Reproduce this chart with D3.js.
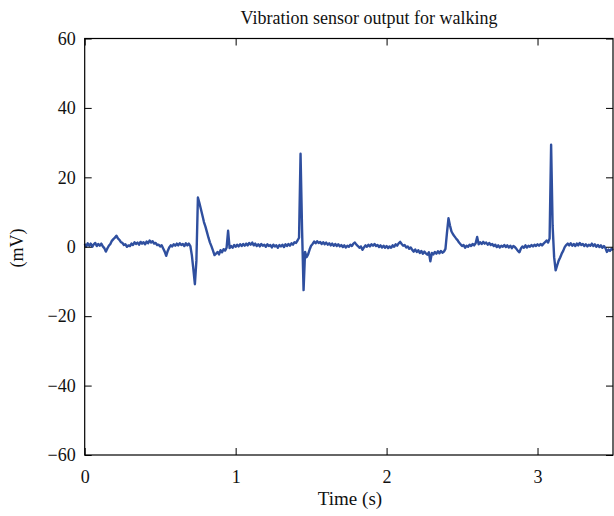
<!DOCTYPE html>
<html>
<head>
<meta charset="utf-8">
<script src="https://cdn.jsdelivr.net/npm/d3@7"></script>
<style>
  body { margin: 0; background: #fff; }
  svg text { font-family: "Liberation Serif", "DejaVu Serif", serif; fill: #111; }
</style>
</head>
<body>
<script>
// signal, one sample every 0.01 s from t = 0
var sampleStep = 0.01;
var signalMV = [
  0.8, 0.1, 1.0, 0.3, 0.9, 0.0, 0.7, 1.1, 0.2, 0.8,
  0.3, 0.9, 0.1, -0.4, -1.4, -0.5, 0.3, 0.8, 1.7, 2.2,
  2.6, 3.2, 2.4, 2.0, 1.3, 1.1, 0.5, 0.7, 0.0, 0.4,
  0.2, 0.9, 0.5, 1.3, 0.8, 1.2, 0.6, 1.4, 0.9, 1.3,
  0.7, 1.5, 1.0, 1.8, 1.2, 1.6, 0.9, 1.1, 0.5, 0.6,
  0.1, 0.4, -0.5, -1.4, -2.6, -1.2, -0.2, 0.4, 0.1, 0.7,
  0.3, 0.9, 0.4, 1.0, 0.5, 0.8, 0.2, 1.0, 0.4, 0.9,
  0.2, -2.5, -6.5, -10.8, -4.0, 14.2, 12.6, 10.8, 9.0, 7.1,
  5.8, 4.2, 2.6, 1.2, 0.1, -1.1, -2.4, -2.0, -1.5, -2.2,
  -1.0, -1.6, -0.7, -1.1, -0.3, 4.6, -0.4, 0.2, -0.3, 0.5,
  0.0, 0.6, 0.1, 0.7, 0.2, 0.8, 0.3, 0.9, 0.4, 1.1,
  0.6, 1.2, 0.4, 0.9, 0.2, 0.7, 0.1, 0.8, 0.3, 0.6,
  0.0, 0.7, 0.2, 0.5, -0.2, 0.6, 0.1, 0.4, -0.3, 0.5,
  0.1, 0.6, -0.1, 0.7, 0.2, 0.8, 0.3, 1.0, 0.6, 1.3,
  1.1, 1.8, 2.6, 26.8, 5.0, -12.5, -1.5, -3.0, -2.2, -0.8,
  0.3, 0.8, 1.5, 1.0, 1.6, 1.1, 1.4, 0.8, 1.3, 0.7,
  1.2, 0.6, 1.0, 0.4, 0.9, 0.3, 0.8, 0.2, 0.7, 0.1,
  0.5, -0.1, 0.4, -0.2, 0.3, 0.0, 0.6, 0.2, 0.9, 1.2,
  0.6, 0.2, -0.3, 0.1, -0.9, -0.2, 0.4, 0.0, 0.6, 0.1,
  0.7, 0.3, 0.8, 0.2, 0.5, -0.1, 0.4, -0.2, 0.3, -0.3,
  0.2, -0.4, 0.1, -0.3, 0.4, 0.0, 0.7, 0.3, 1.0, 1.4,
  0.8, 0.3, 0.5, -0.2, 0.1, -0.6, -0.2, -0.9, -1.4, -0.8,
  -1.5, -1.0, -1.8, -1.2, -2.0, -1.4, -1.9, -2.3, -1.6, -4.2,
  -1.8, -2.2, -1.5, -2.0, -1.3, -1.9, -1.2, -1.7, -1.4, -0.6,
  4.0, 8.2, 6.1, 4.4, 3.6, 3.0, 2.4, 1.9, 1.2, 0.7,
  0.2, 0.5, -0.3, 0.3, 0.0, 0.6, 0.2, 0.8, 0.4, 1.0,
  2.8, 0.7, 1.3, 0.8, 1.4, 0.9, 1.2, 0.6, 1.1, 0.5,
  0.8, 0.2, 0.6, -0.1, 0.4, -0.2, 0.3, 0.0, 0.5, -0.1,
  0.4, -0.2, 0.3, -0.4, 0.2, -0.1, -0.6, -1.2, -1.6, -0.5,
  0.1, -0.3, 0.4, -0.2, 0.3, 0.0, 0.5, 0.1, 0.6, 0.2,
  0.7, 0.3, 0.8, 0.4, 0.9, 1.3, 1.8, 1.2, 2.4, 29.4,
  6.0, -3.0, -6.8, -5.4, -4.0, -3.1, -2.0, -1.2, -0.1, 0.5,
  0.9, 0.4, 1.0, 0.3, 0.8, 0.2, 0.9, 0.4, 1.1, 0.5,
  0.8, 0.2, 0.7, 0.1, 0.6, 0.3, 0.9, 0.2, 0.7, 0.0,
  0.5, -0.1, 0.4, -0.3, 0.2, -0.4, -1.5, -0.8, -1.2, -0.6,
  -1.0
];
var xTicks = [0, 1, 2, 3];
var yTicks = [-60, -40, -20, 0, 20, 40, 60];
var xDomain = [0, 3.5];
var yDomain = [-60, 60];

var margin = {top: 38.5, right: 1, bottom: 61, left: 84.7},
    width = 614 - margin.left - margin.right,
    height = 516 - margin.top - margin.bottom;

var svg = d3.select("body")
  .append("svg")
    .attr("width", 614)
    .attr("height", 516)
  .append("g")
    .attr("transform", "translate(" + margin.left + "," + margin.top + ")");

var x = d3.scaleLinear().domain(xDomain).range([0, width]);
var y = d3.scaleLinear().domain(yDomain).range([height, 0]);

// the trace
var line = d3.line()
  .x(function(d, i) { return x(i * sampleStep); })
  .y(function(d) { return y(d); });

svg.append("path")
  .datum(signalMV)
  .attr("fill", "none")
  .attr("stroke", "#2f4f9f")
  .attr("stroke-width", 2.4)
  .attr("stroke-linejoin", "round")
  .attr("d", line);

// axes, ticks pointing inward on all four sides
function styleAxis(g) {
  g.select(".domain").remove();
  g.selectAll("line").attr("stroke", "#000").attr("stroke-width", 1);
  g.selectAll("text").style("font-size", "18px").attr("fill", "#111");
}

svg.append("g")
  .attr("transform", "translate(0," + height + ")")
  .call(d3.axisBottom(x).tickValues(xTicks).tickSize(-7).tickPadding(15).tickFormat(d3.format("d")))
  .call(styleAxis);

svg.append("g")
  .call(d3.axisTop(x).tickValues(xTicks).tickSize(-7).tickFormat(""))
  .call(styleAxis);

svg.append("g")
  .call(d3.axisLeft(y).tickValues(yTicks).tickSize(-7).tickPadding(9))
  .call(styleAxis);

svg.append("g")
  .attr("transform", "translate(" + width + ",0)")
  .call(d3.axisRight(y).tickValues(yTicks).tickSize(-7).tickFormat(""))
  .call(styleAxis);

svg.append("rect")
  .attr("width", width)
  .attr("height", height)
  .attr("fill", "none")
  .attr("stroke", "#000")
  .attr("stroke-width", 1.2);

// title and labels
svg.append("text")
  .text("Vibration sensor output for walking")
  .attr("x", 369 - margin.left)
  .attr("y", -15)
  .attr("text-anchor", "middle")
  .style("font-size", "18px");

svg.append("text")
  .text("Time (s)")
  .attr("x", 350 - margin.left)
  .attr("y", height + 50)
  .attr("text-anchor", "middle")
  .style("font-size", "19px");

svg.append("text")
  .text("(mV)")
  .attr("transform", "rotate(-90)")
  .attr("x", -(248 - margin.top))
  .attr("y", -62)
  .attr("text-anchor", "middle")
  .style("font-size", "18px");
</script>
</body>
</html>
